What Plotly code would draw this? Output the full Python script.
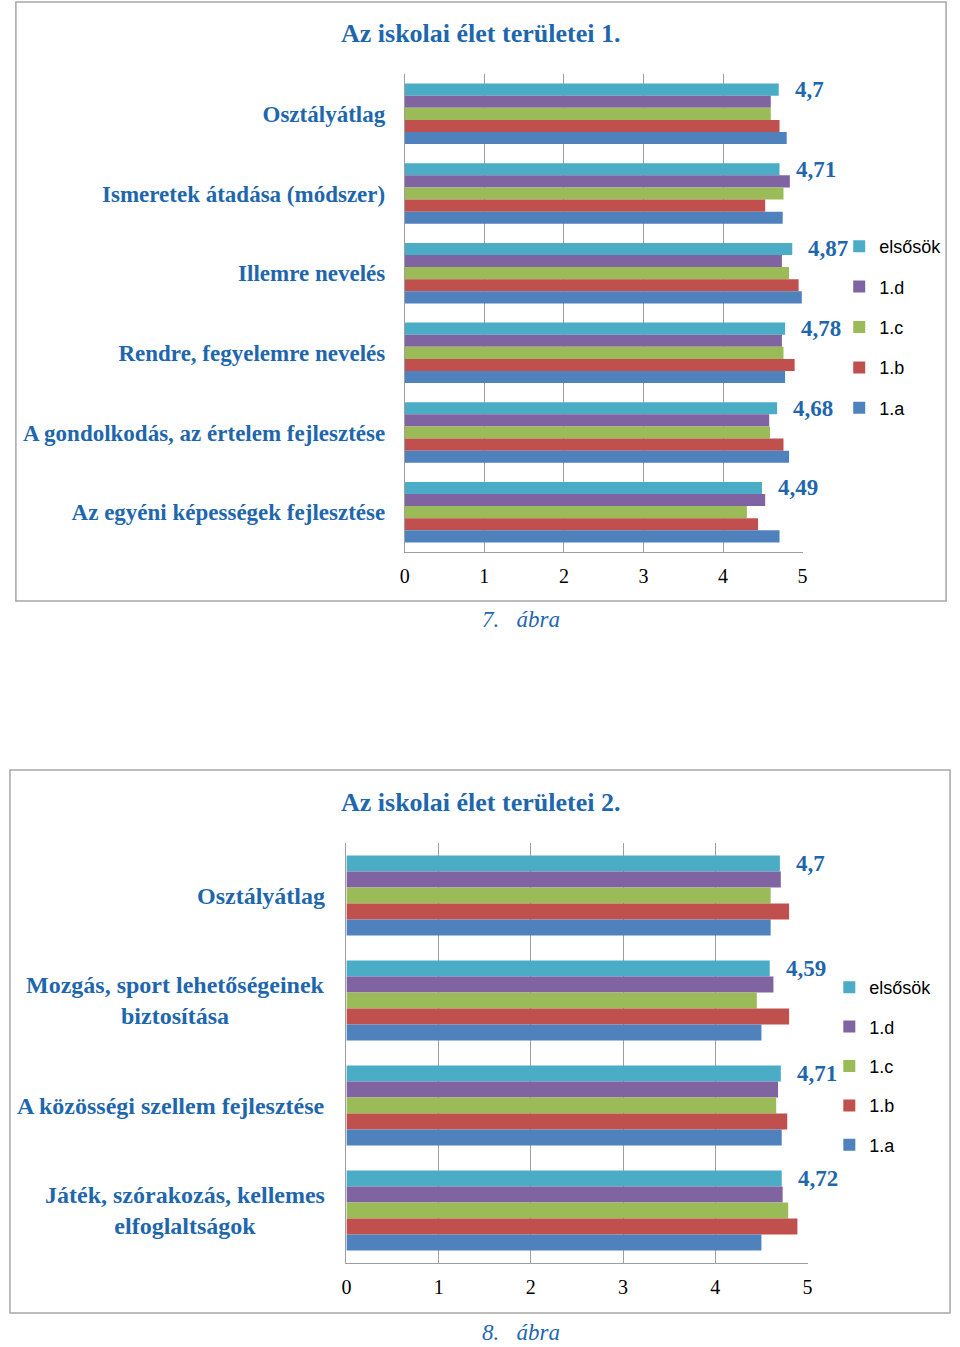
import plotly.graph_objects as go

# ---------------- data ----------------
series = ["elsősök", "1.d", "1.c", "1.b", "1.a"]
colors = ["#4BACC6", "#8064A2", "#9BBB59", "#C0504D", "#4F81BD"]

cats1 = ["Osztályátlag", "Ismeretek átadása (módszer)", "Illemre nevelés",
         "Rendre, fegyelemre nevelés", "A gondolkodás, az értelem fejlesztése",
         "Az egyéni képességek fejlesztése"]
elsosok1 = [4.70, 4.71, 4.87, 4.78, 4.68, 4.49]
d1 = [4.60, 4.84, 4.74, 4.74, 4.58, 4.53]
c1 = [4.60, 4.76, 4.83, 4.76, 4.59, 4.30]
b1 = [4.71, 4.53, 4.95, 4.90, 4.76, 4.44]
a1 = [4.80, 4.75, 4.99, 4.78, 4.83, 4.71]

cats2 = ["Osztályátlag", "Mozgás, sport lehetőségeinek<br>biztosítása",
         "A közösségi szellem fejlesztése",
         "Játék, szórakozás, kellemes<br>elfoglaltságok"]
elsosok2 = [4.70, 4.59, 4.71, 4.72]
d2 = [4.71, 4.63, 4.68, 4.73]
c2 = [4.60, 4.45, 4.66, 4.79]
b2 = [4.80, 4.80, 4.78, 4.89]
a2 = [4.60, 4.50, 4.72, 4.50]

x_ticks = [0, 1, 2, 3, 4, 5]
title1 = "Az iskolai élet területei 1."
title2 = "Az iskolai élet területei 2."
caption1 = "7.&nbsp;&nbsp;&nbsp;ábra"
caption2 = "8.&nbsp;&nbsp;&nbsp;ábra"

# ---------------- layout helpers ----------------
W, H = 960, 1347
BLUE = "#1F67AD"
GRID = "#9E9E9E"
SERIF = "Liberation Serif, Times New Roman, serif"
SANS = "Liberation Sans, Arial, sans-serif"


def fx(px):
    return px / W


def fy(py):
    return 1 - py / H


def fmt(v):
    return ("%g" % v).replace(".", ",")


BARGAP = 0.24
# plot areas (pixels)
P1 = dict(l=404, r=806, t=74, b=552)
P2 = dict(l=345, r=811, t=843, b=1263)

fig = go.Figure()
vals1 = [elsosok1, d1, c1, b1, a1]
vals2 = [elsosok2, d2, c2, b2, a2]
for name, col, v in zip(series, colors, vals1):
    fig.add_trace(go.Bar(x=v, y=cats1, orientation="h", name=name,
                         marker=dict(color=col, line=dict(width=0)),
                         xaxis="x", yaxis="y", legend="legend",
                         legendgroup=name + "_1", hoverinfo="x+y"))
for name, col, v in zip(series, colors, vals2):
    fig.add_trace(go.Bar(x=v, y=cats2, orientation="h", name=name,
                         marker=dict(color=col, line=dict(width=0)),
                         xaxis="x2", yaxis="y2", legend="legend2",
                         legendgroup=name + "_2", hoverinfo="x+y"))

xcommon = dict(range=[0, 5], tickvals=x_ticks, showgrid=True, gridcolor=GRID,
               gridwidth=1, showline=True, linecolor=GRID, linewidth=1,
               zeroline=False, ticks="", ticklabelstandoff=6,
               tickfont=dict(family=SERIF, size=20, color="#000000"))

fig.update_layout(
    width=W, height=H, autosize=False,
    margin=dict(l=0, r=0, t=0, b=0, pad=0),
    paper_bgcolor="white", plot_bgcolor="white",
    barmode="group", bargap=BARGAP, bargroupgap=0,
    xaxis=dict(domain=[fx(P1["l"]), fx(P1["r"])], anchor="y", **xcommon),
    yaxis=dict(domain=[fy(P1["b"]), fy(P1["t"])], anchor="x", type="category",
               categoryorder="array", categoryarray=cats1,
               range=[len(cats1) - 0.5, -0.5], showgrid=False,
               showline=True, linecolor=GRID, linewidth=1, ticks="",
               ticklabelstandoff=14,
               tickfont=dict(family=SERIF, size=23, color=BLUE, weight="bold")),
    xaxis2=dict(domain=[fx(P2["l"]), fx(P2["r"])], anchor="y2", **xcommon),
    yaxis2=dict(domain=[fy(P2["b"]), fy(P2["t"])], anchor="x2", type="category",
                categoryorder="array", categoryarray=cats2,
                range=[len(cats2) - 0.5, -0.5], showgrid=False,
                showline=True, linecolor=GRID, linewidth=1, ticks="",
                showticklabels=False),
    legend=dict(x=fx(843), y=fy(228), xanchor="left", yanchor="top",
                traceorder="grouped", tracegroupgap=14,
                font=dict(family=SANS, size=18, color="#000000"),
                bgcolor="rgba(0,0,0,0)"),
    legend2=dict(x=fx(833), y=fy(969), xanchor="left", yanchor="top",
                 traceorder="grouped", tracegroupgap=13,
                 font=dict(family=SANS, size=18, color="#000000"),
                 bgcolor="rgba(0,0,0,0)"),
)

ann = []
# titles & captions
for txt, y in [(title1, 33), (title2, 802)]:
    ann.append(dict(text=txt, x=fx(481), y=fy(y), xref="paper", yref="paper",
                    xanchor="center", yanchor="middle", showarrow=False,
                    font=dict(family=SERIF, size=26, color=BLUE, weight="bold")))
for txt, y in [(caption1, 619), (caption2, 1332)]:
    ann.append(dict(text=txt, x=fx(521), y=fy(y), xref="paper", yref="paper",
                    xanchor="center", yanchor="middle", showarrow=False,
                    font=dict(family=SERIF, size=23, color=BLUE, style="italic")))

# data labels for elsősök (top bar of each group)
group_frac = (1 - BARGAP)
top_off = group_frac / 2 - group_frac / 10
pitch1 = (P1["b"] - P1["t"]) / len(cats1)
pitch2 = (P2["b"] - P2["t"]) / len(cats2)
for cats, vals, xr, yr, pitch in [(cats1, elsosok1, "x", "y", pitch1),
                                  (cats2, elsosok2, "x2", "y2", pitch2)]:
    for c, v in zip(cats, vals):
        ann.append(dict(text=fmt(v), x=v, y=c, xref=xr, yref=yr,
                        xanchor="left", yanchor="middle", xshift=14,
                        yshift=top_off * pitch, showarrow=False,
                        font=dict(family=SERIF, size=23, color=BLUE, weight="bold")))

# category labels for chart 2 (centered multi-line)
for c in cats2:
    ann.append(dict(text=c, x=fx(P2["l"] - 20), y=c, xref="paper", yref="y2",
                    xanchor="right", yanchor="middle", align="center",
                    showarrow=False,
                    font=dict(family=SERIF, size=24, color=BLUE, weight="bold")))

fig.update_layout(annotations=ann)

# chart frames
fig.update_layout(shapes=[
    dict(type="rect", xref="paper", yref="paper", x0=fx(11), x1=fx(951),
         y0=fy(601), y1=fy(2), line=dict(color="#A6A6A6", width=1.5)),
    dict(type="rect", xref="paper", yref="paper", x0=fx(5), x1=fx(955),
         y0=fy(1313), y1=fy(770), line=dict(color="#A6A6A6", width=1.5)),
])

fig.write_html("out.html",
               config={"displayModeBar": False},
               post_script="document.body.style.margin='0px';"
                           "document.body.style.overflow='hidden';")
